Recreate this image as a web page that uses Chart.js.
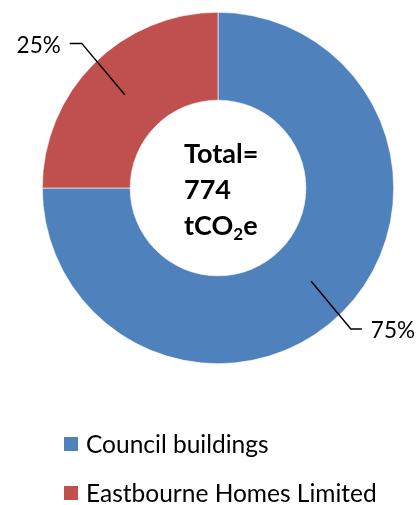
<!DOCTYPE html>
<html>
<head>
<meta charset="utf-8">
<script src="https://cdn.jsdelivr.net/npm/chart.js@4"></script>
<style>
  html, body { margin: 0; padding: 0; background: #fff; }
  #wrap { width: 419px; height: 505px; }
</style>
</head>
<body>
<div id="wrap"><canvas id="emissionsChart" width="419" height="505"></canvas></div>
<script>
// data
const categories = ['Council buildings', 'Eastbourne Homes Limited'];
const emissions = [580.5, 193.5]; // tCO2e, total 774
const colours = ['#4F81BD', '#C0504D'];
const centreLines = ['Total=', '774', 'tCO2e'];

const FONT = 'Lato, "Open Sans", sans-serif';

// percentage labels with leader lines
const leaderLabels = {
    id: 'leaderLabels',
    afterDatasetsDraw(chart) {
        const c = chart.ctx;
        const meta = chart.getDatasetMeta(0);
        const total = emissions.reduce((a, b) => a + b, 0);
        c.save();
        c.strokeStyle = '#000';
        c.lineWidth = 1.5;
        c.fillStyle = '#000';
        c.font = '22.5px ' + FONT;
        c.textBaseline = 'middle';
        meta.data.forEach((arc, i) => {
            const p = arc.getProps(['x', 'y', 'startAngle', 'endAngle', 'innerRadius', 'outerRadius'], true);
            const mid = (p.startAngle + p.endAngle) / 2;
            const right = Math.cos(mid) >= 0;
            const bend = mid + 1.7 * Math.PI / 180;
            const rIn = (p.innerRadius + p.outerRadius) / 2;
            const rOut = p.outerRadius + (right ? 18 : 23);
            const x0 = p.x + Math.cos(mid) * rIn, y0 = p.y + Math.sin(mid) * rIn;
            const x1 = p.x + Math.cos(bend) * rOut, y1 = p.y + Math.sin(bend) * rOut;
            const x2 = x1 + (right ? 11 : -12);
            c.beginPath();
            c.moveTo(x0, y0);
            c.lineTo(x1, y1);
            c.lineTo(x2, y1);
            c.stroke();
            c.textAlign = right ? 'left' : 'right';
            const pct = Math.round(emissions[i] / total * 100) + '%';
            c.fillText(pct, x2 + (right ? 9 : -9), y1 + 2);
        });
        c.restore();
    }
};

// centre total text
const centreText = {
    id: 'centreText',
    afterDraw(chart) {
        const c = chart.ctx;
        const arc = chart.getDatasetMeta(0).data[0];
        const cx = arc.x, cy = arc.y;
        c.save();
        c.fillStyle = '#000';
        c.textAlign = 'left';
        c.textBaseline = 'alphabetic';
        const big = 'bold 27px ' + FONT;
        const left = cx - 34;
        c.font = big;
        c.fillText(centreLines[0], left, cy - 25);
        c.fillText(centreLines[1], left, cy + 11);
        // tCO2e with subscript 2
        const base = cy + 47;
        c.fillText('tCO', left, base);
        let x = left + c.measureText('tCO').width;
        c.font = 'bold 17px ' + FONT;
        c.fillText('2', x, base + 5);
        x += c.measureText('2').width;
        c.font = big;
        c.fillText('e', x, base);
        c.restore();
    }
};

// legend rows, left aligned under the chart
const sideLegend = {
    id: 'sideLegend',
    afterDraw(chart) {
        const c = chart.ctx;
        c.save();
        c.font = '24.5px ' + FONT;
        c.textBaseline = 'middle';
        c.textAlign = 'left';
        categories.forEach((name, i) => {
            const y = 444 + i * 49;
            c.fillStyle = colours[i];
            c.fillRect(64, y - 7, 14, 14);
            c.fillStyle = '#000';
            c.fillText(name, 86, y + 1);
        });
        c.restore();
    }
};

const ctx = document.getElementById('emissionsChart').getContext('2d');
const emissionsChart = new Chart(ctx, {
    type: 'doughnut',
    data: {
        labels: categories,
        datasets: [{
            data: emissions,
            backgroundColor: colours,
            borderColor: '#ffffff',
            borderWidth: 0.6
        }]
    },
    options: {
        responsive: false,
        animation: false,
        cutout: '50%',
        layout: { padding: { left: 42, right: 25, top: 12, bottom: 141 } },
        plugins: {
            legend: { display: false },
            tooltip: { enabled: false }
        }
    },
    plugins: [leaderLabels, centreText, sideLegend]
});
</script>
</body>
</html>
